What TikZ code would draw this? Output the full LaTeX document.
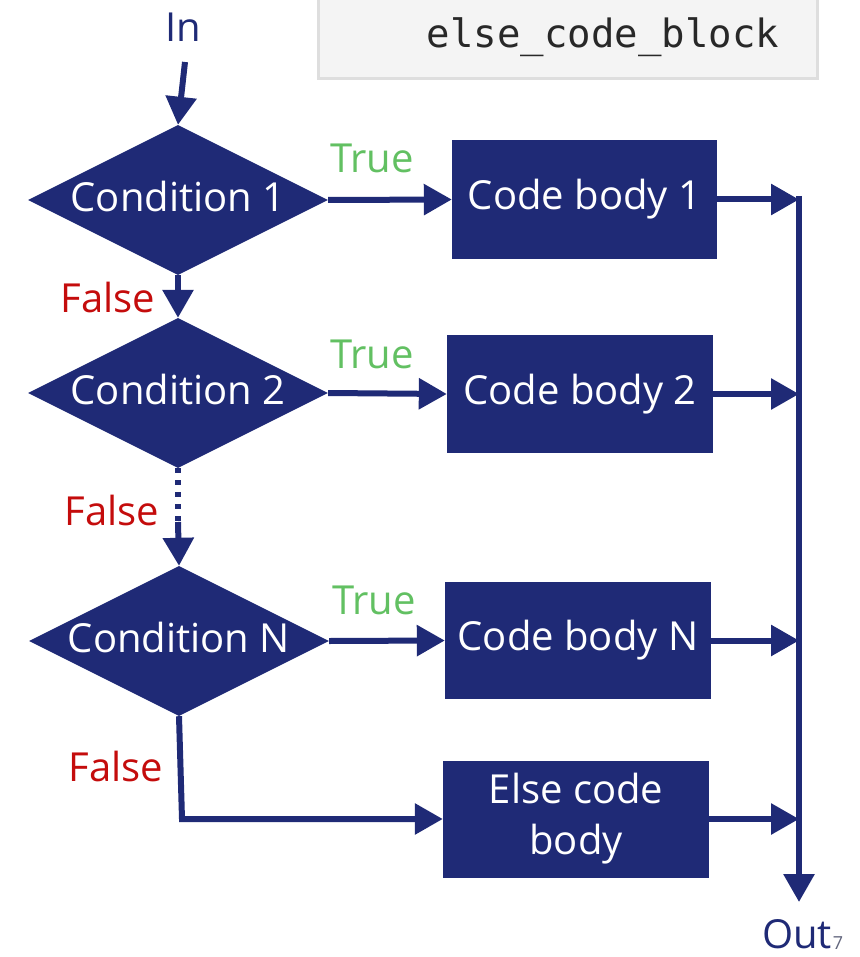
\documentclass[tikz,border=0pt]{standalone}
\usepackage{fontspec}
\setmainfont{Open Sans}
\newfontfamily\codefont{DejaVu Sans Mono}
\usetikzlibrary{shapes.geometric,arrows.meta}
\definecolor{navy}{RGB}{31,42,118}
\definecolor{truegreen}{RGB}{98,192,98}
\definecolor{falsered}{RGB}{196,12,12}
\definecolor{codebg}{RGB}{244,244,244}
\definecolor{codeborder}{RGB}{222,222,222}
\definecolor{codetext}{RGB}{40,40,40}
\tikzset{
  dec/.style={diamond, aspect=2, fill=navy, text=white, inner sep=0pt,
    minimum width=300pt, minimum height=150pt, font=\fontsize{40}{48}\selectfont},
  codebox/.style={rectangle, fill=navy, text=white, inner sep=0pt,
    minimum width=266pt, minimum height=118pt, align=center,
    font=\fontsize{40}{51}\selectfont},
  flow/.style={draw=navy, line width=6pt,
    -{Triangle[width=30pt,length=28pt]}},
  dotflow/.style={draw=navy, line width=6pt, dash pattern=on 5pt off 7pt},
  truelbl/.style={text=truegreen, font=\fontsize{40}{48}\selectfont},
  falselbl/.style={text=falsered, font=\fontsize{40}{48}\selectfont},
  termlbl/.style={text=navy, inner sep=0pt, font=\fontsize{40}{48}\selectfont},
}
\begin{document}
\begin{tikzpicture}[x=1pt,y=-1pt]
\useasboundingbox (0,0) rectangle (859,957);
% code snippet box (cut off at the top)
\draw[fill=codebg, draw=codeborder, line width=3pt] (318,-10) rectangle (817,79);
\node[text=codetext, font=\codefont\fontsize{39}{44}\selectfont] (code) at (603,37) {else\_code\_block};

% decisions
\node[dec] (d1) at (178,200) {\raisebox{7pt}{Condition 1}};
\node[dec] (d2) at (178,393) {\raisebox{7pt}{Condition 2}};
\node[dec] (dN) at (179,641) {\raisebox{7pt}{Condition N}};

% code bodies
\node[codebox, minimum width=265pt, minimum height=119pt] (b1) at (584.5,199.5) {Code body 1};
\node[codebox] (b2) at (580,394) {Code body 2};
\node[codebox, minimum height=117pt] (bN) at (578,640.5) {Code body N};
\node[codebox, minimum height=117pt] (be) at (576,819) {Else code\\body};

% terminals
\node[termlbl] (in) at (183,27) {In};
\coordinate (inStart) at (185,62);
\node[termlbl] (out) at (797,934) {Out};
\node[text=gray!70!navy, inner sep=0pt, font=\fontsize{18}{22}\selectfont] (pg) at (838,943) {7};

% labels
\node[truelbl] (t1) at (372,158) {True};
\node[truelbl] (t2) at (372,354) {True};
\node[truelbl] (tN) at (374,600) {True};
\node[falselbl] (f1) at (108,297) {False};
\node[falselbl] (f2) at (112,510) {False};
\node[falselbl] (fN) at (116,766) {False};

% connectors
\draw[flow] (inStart) -- (d1.north);
\draw[flow] (d1.east) -- (b1.west);
\draw[flow] (d2.east) -- (b2.west);
\draw[flow] (dN.east) -- (bN.west);
\draw[flow] (d1.south) -- (d2.north);
\coordinate (dotEnd) at (178,522);
\draw[dotflow] (d2.south) -- (dotEnd);
\draw[flow] (dotEnd) -- (dN.north);
\coordinate (elbow) at (182,819);
\draw[flow] (dN.south) -- (elbow) -- (be.west);

% outputs
\coordinate (o1) at (799,199.5);
\coordinate (o2) at (799,394);
\coordinate (oN) at (799,640.5);
\coordinate (oe) at (799,819);
\coordinate (top) at (799,196);
\coordinate (bot) at (799,902);
\draw[flow] (b1.east) -- (o1);
\draw[flow] (b2.east) -- (o2);
\draw[flow] (bN.east) -- (oN);
\draw[flow] (be.east) -- (oe);
\draw[flow] (top) -- (bot);
\end{tikzpicture}
\end{document}
